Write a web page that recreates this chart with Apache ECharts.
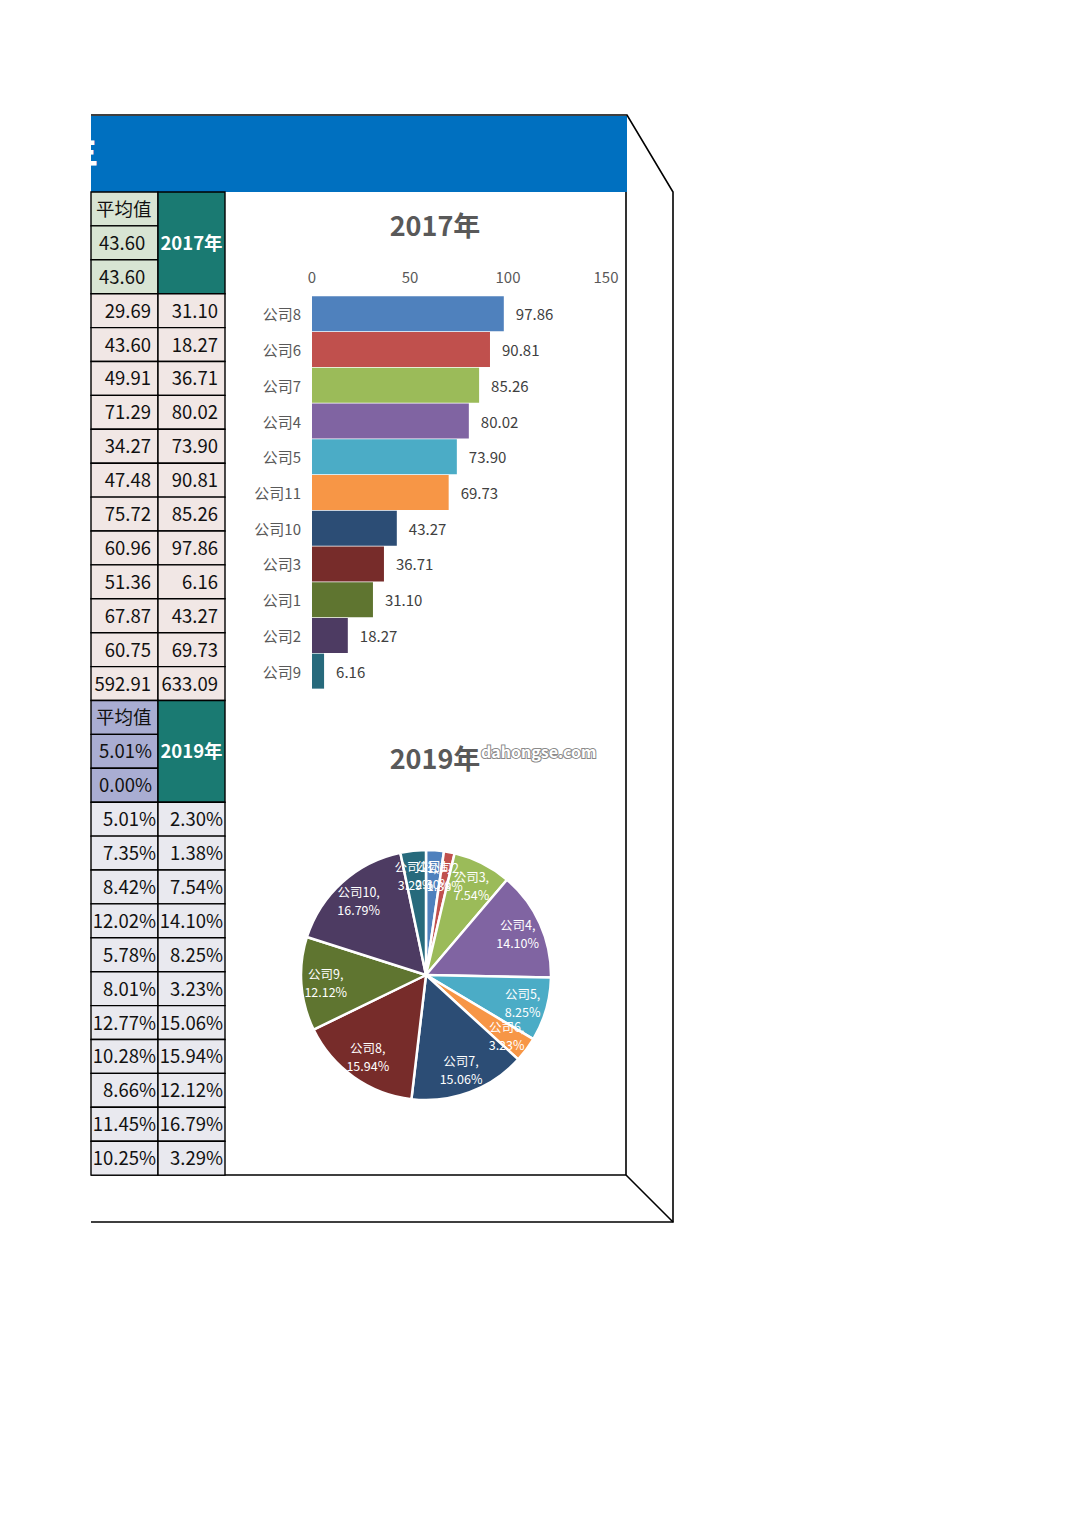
<!DOCTYPE html>
<html><head><meta charset="utf-8">
<script src="https://cdn.jsdelivr.net/npm/echarts@6/dist/echarts.min.js"></script>
<style>html,body{margin:0;padding:0;background:#fff}#c{width:1080px;height:1526px}</style>
</head><body><div id="c"></div>
<script>
// ---------- data ----------
const companies = ['公司1','公司2','公司3','公司4','公司5','公司6','公司7','公司8','公司9','公司10','公司11'];
const avg2017Header = ['平均值','43.60','43.60'];
const colA2017 = ['29.69','43.60','49.91','71.29','34.27','47.48','75.72','60.96','51.36','67.87','60.75','592.91'];
const values2017 = [31.10,18.27,36.71,80.02,73.90,90.81,85.26,97.86,6.16,43.27,69.73];
const total2017 = '633.09';
const avg2019Header = ['平均值','5.01%','0.00%'];
const colA2019 = ['5.01%','7.35%','8.42%','12.02%','5.78%','8.01%','12.77%','10.28%','8.66%','11.45%','10.25%'];
const values2019 = [2.30,1.38,7.54,14.10,8.25,3.23,15.06,15.94,12.12,16.79,3.29];
const xTicks = [0,50,100,150];
const title2017 = '2017年';
const title2019 = '2019年';
const watermark = 'dahongse.com';
const palette = ['#4F81BD','#C0504D','#9BBB59','#8064A2','#4BACC6','#F79646','#2C4D75','#772C2A','#5F7530','#4D3B62','#276A7C'];

// ---------- build ----------
const FONT = '"Noto Sans CJK SC","Noto Sans",sans-serif';
const order = values2017.map((v,i)=>i).sort((a,b)=>values2017[b]-values2017[a]);
const barCats = order.map(i=>companies[i]);
const barData = order.map((i,r)=>({value:values2017[i], itemStyle:{color:palette[r]}}));

const g = [];
// banner
g.push({type:'rect',shape:{x:91,y:116,width:536,height:76},style:{fill:'#0070C0'},z:1});
g.push({type:'text',x:98,y:153,style:{text:'年',font:'bold 40px '+FONT,fill:'#fff',textAlign:'right',textVerticalAlign:'middle'},z:2});
g.push({type:'rect',shape:{x:0,y:110,width:91,height:90},style:{fill:'#fff'},z:3});
// frame lines
const LS = {stroke:'#000',lineWidth:1.6,fill:null};
g.push({type:'polyline',shape:{points:[[91,115],[627,115],[673,192],[673,1222],[91,1222]]},style:LS,z:4});
g.push({type:'polyline',shape:{points:[[626,192],[626,1175],[91,1175]]},style:LS,z:4});
g.push({type:'line',shape:{x1:626,y1:1175,x2:673,y2:1222},style:LS,z:4});

// tables
const X0=91, CW=67, RH=33.9;
function cell(x,y,w,h,fill){g.push({type:'rect',shape:{x:x,y:y,width:w,height:h},style:{fill:fill,stroke:'#000',lineWidth:1.4},z:5});}
function txt(s,x,y,align,fill,bold){g.push({type:'text',x:x,y:y,style:{text:s,font:(bold?'bold ':'')+'18.5px '+FONT,fill:fill||'#111',textAlign:align,textVerticalAlign:'middle'},z:6});}
function table(y0, header, colA, colB, hdrFill, bodyFill, yearLabel, pad){
  for(let i=0;i<3;i++){
    cell(X0,y0+i*RH,CW,RH,hdrFill);
    txt(header[i], X0+(i===0?5:8), y0+i*RH+RH/2-1, 'left');
  }
  cell(X0+CW,y0,CW,RH*3,'#1A7A72');
  txt(yearLabel, X0+CW+CW/2, y0+RH*1.5-1, 'center', '#fff', true);
  for(let i=0;i<colA.length;i++){
    const y=y0+(i+3)*RH;
    cell(X0,y,CW,RH,bodyFill); cell(X0+CW,y,CW,RH,bodyFill);
    txt(colA[i], X0+CW-pad, y+RH/2-1, 'right');
    txt(colB[i], X0+2*CW-pad, y+RH/2-1, 'right');
  }
}
table(192, avg2017Header, colA2017, values2017.map(v=>v.toFixed(2)).concat([total2017]), '#D8E4D3', '#F1E7E5', title2017, 7);
table(192+15*RH, avg2019Header, colA2019, values2019.map(v=>v.toFixed(2)+'%'), '#A9ADD2', '#E9E9EF', title2019, 2);

// watermark
g.push({type:'text',x:481,y:751,style:{text:watermark,font:'bold 16px '+FONT,fill:'#fff',stroke:'#8a8a8a',lineWidth:2,textAlign:'left',textVerticalAlign:'middle'},z:10});

const pieLabelData = companies.map((c,i)=>({name:c,value:values2019[i]}));
const option = {
  backgroundColor:'#fff',
  animation:false,
  textStyle:{fontFamily:FONT},
  title:[
    {text:title2017,left:435,top:211,textAlign:'center',padding:0,textStyle:{fontSize:27,fontWeight:'bold',color:'#595959',fontFamily:FONT}},
    {text:title2019,left:435,top:744,textAlign:'center',padding:0,textStyle:{fontSize:27,fontWeight:'bold',color:'#595959',fontFamily:FONT}}
  ],
  grid:{left:312,top:296,width:294,height:393,containLabel:false},
  xAxis:{type:'value',position:'top',min:xTicks[0],max:xTicks[xTicks.length-1],interval:xTicks[1]-xTicks[0],
    axisLine:{show:false},axisTick:{show:false},splitLine:{show:false},
    axisLabel:{color:'#595959',fontSize:15,margin:12,fontFamily:FONT}},
  yAxis:{type:'category',inverse:true,data:barCats,axisLine:{show:false},axisTick:{show:false},
    axisLabel:{color:'#595959',fontSize:15,margin:11,fontFamily:FONT}},
  series:[
    {type:'bar',data:barData,barCategoryGap:'2%',
     label:{show:true,position:'right',distance:12,color:'#404040',fontSize:15,fontFamily:FONT,formatter:p=>p.value.toFixed(2)}},
    {type:'pie',center:[426,975],radius:[0,125],startAngle:90,clockwise:true,
     data:companies.map((c,i)=>({name:c,value:values2019[i],itemStyle:{color:palette[i]}})),
     itemStyle:{borderColor:'#fff',borderWidth:2.5},label:{show:false},labelLine:{show:false},silent:true},
    {type:'pie',center:[426,975],radius:[70,125],startAngle:90,clockwise:true,silent:true,avoidLabelOverlap:false,
     minShowLabelAngle:0,labelLayout:{hideOverlap:false},
     data:pieLabelData,itemStyle:{color:'rgba(0,0,0,0)'},labelLine:{show:false},
     label:{show:true,position:'inside',color:'#fff',fontSize:12.5,lineHeight:18,fontFamily:FONT,textBorderWidth:0,
       formatter:p=>p.name+',\n'+p.value.toFixed(2)+'%'}}
  ],
  graphic:g
};
const chart = echarts.init(document.getElementById('c'),null,{renderer:'svg',width:1080,height:1526});
chart.setOption(option);
</script></body></html>
